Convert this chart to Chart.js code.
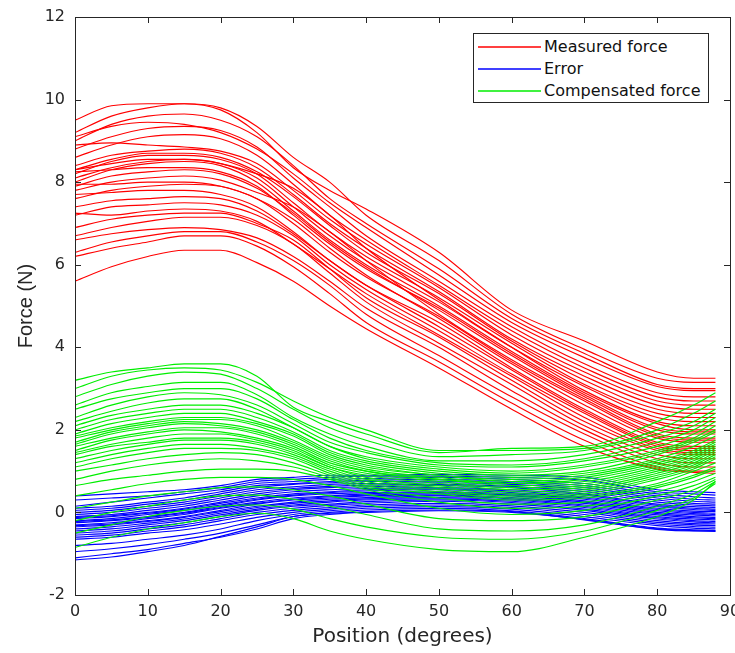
<!DOCTYPE html>
<html>
<head>
<meta charset="utf-8">
<script src="https://cdn.jsdelivr.net/npm/chart.js@4.4.1/dist/chart.umd.min.js"></script>
<style>
  html, body { margin: 0; padding: 0; background: #fff; }
  #wrap { position: relative; width: 735px; height: 653px; }
  #legend {
    position: absolute; left: 473px; top: 33px; width: 234px; height: 68px;
    border: 1px solid #262626; background: #fff;
    font-family: "DejaVu Sans", sans-serif; font-size: 16px; color: #111;
  }
  .row { position: absolute; left: 0; height: 20px; line-height: 20px; width: 234px; }
  .sw { position: absolute; left: 4px; top: 8px; }
  .lbl { position: absolute; left: 70px; top: 0; white-space: nowrap; }
</style>
</head>
<body>
<div id="wrap">
  <canvas id="c" width="735" height="653"></canvas>
  <div id="legend">
    <div class="row" style="top:3px"><svg class="sw" width="64" height="4"><line x1="0" y1="2" x2="63" y2="2" stroke="#ff0000" stroke-width="1.3"/></svg><div class="lbl">Measured force</div></div>
    <div class="row" style="top:25px"><svg class="sw" width="64" height="4"><line x1="0" y1="2" x2="63" y2="2" stroke="#0000ff" stroke-width="1.3"/></svg><div class="lbl">Error</div></div>
    <div class="row" style="top:47px"><svg class="sw" width="64" height="4"><line x1="0" y1="2" x2="63" y2="2" stroke="#00ee00" stroke-width="1.3"/></svg><div class="lbl">Compensated force</div></div>
  </div>
</div>
<script>
// ---- Data ----
const positions = [0, 5, 10, 15, 20, 25, 30, 35, 40, 50, 60, 70, 80, 85, 88];
const xTicks = [0, 10, 20, 30, 40, 50, 60, 70, 80, 90];
const yTicks = [-2, 0, 2, 4, 6, 8, 10, 12];
const seriesNames = ["Measured force", "Error", "Compensated force"];

const measuredTrials = [
  [9.5, 9.85, 9.9, 9.9, 9.75, 9.2, 8.35, 7.8, 7.35, 6.3, 4.9, 4.15, 3.4, 3.25, 3.25],
  [9.2, 9.6, 9.8, 9.9, 9.8, 9.35, 8.6, 8.0, 7.2, 6.1, 4.8, 3.95, 3.25, 3.15, 3.15],
  [9.0, 9.4, 9.6, 9.65, 9.5, 9.1, 8.4, 7.6, 7.0, 5.9, 4.7, 3.85, 3.1, 3.0, 3.0],
  [9.1, 9.35, 9.45, 9.4, 9.2, 8.8, 8.2, 7.5, 6.9, 5.75, 4.6, 3.75, 3.05, 2.95, 2.95],
  [8.8, 9.1, 9.3, 9.35, 9.25, 8.85, 8.1, 7.4, 6.7, 5.6, 4.5, 3.6, 2.9, 2.8, 2.8],
  [8.6, 8.9, 9.1, 9.15, 9.05, 8.65, 7.95, 7.2, 6.6, 5.5, 4.4, 3.5, 2.8, 2.7, 2.7],
  [8.9, 8.95, 8.9, 8.85, 8.75, 8.45, 7.8, 7.1, 6.5, 5.45, 4.3, 3.4, 2.7, 2.6, 2.6],
  [8.4, 8.65, 8.75, 8.8, 8.7, 8.35, 7.7, 7.0, 6.4, 5.35, 4.2, 3.3, 2.6, 2.5, 2.5],
  [8.3, 8.55, 8.7, 8.7, 8.6, 8.25, 7.65, 6.95, 6.3, 5.3, 4.15, 3.2, 2.5, 2.4, 2.4],
  [8.2, 8.5, 8.65, 8.65, 8.55, 8.2, 7.5, 6.8, 6.2, 5.2, 4.1, 3.1, 2.4, 2.3, 2.3],
  [8.3, 8.45, 8.55, 8.55, 8.45, 8.1, 7.4, 6.7, 6.1, 5.1, 4.0, 3.05, 2.3, 2.2, 2.2],
  [8.1, 8.35, 8.5, 8.55, 8.45, 8.2, 7.85, 7.2, 6.4, 5.15, 4.0, 2.95, 2.2, 2.1, 2.1],
  [8.0, 8.3, 8.45, 8.5, 8.4, 8.0, 7.3, 6.6, 6.0, 5.0, 3.9, 2.9, 2.15, 2.0, 2.0],
  [8.25, 8.3, 8.35, 8.35, 8.25, 7.9, 7.2, 6.5, 5.9, 4.95, 3.85, 2.85, 2.05, 1.95, 1.95],
  [7.9, 8.15, 8.25, 8.3, 8.2, 7.85, 7.25, 6.55, 5.95, 4.9, 3.8, 2.8, 2.0, 1.9, 1.9],
  [7.8, 8.0, 8.1, 8.15, 8.05, 7.75, 7.4, 6.8, 6.1, 4.8, 3.7, 2.75, 1.9, 1.8, 1.8],
  [7.95, 7.95, 8.0, 8.0, 7.9, 7.6, 7.0, 6.3, 5.7, 4.75, 3.65, 2.7, 1.85, 1.75, 1.75],
  [7.6, 7.8, 7.9, 7.95, 7.9, 7.6, 7.1, 6.4, 5.75, 4.7, 3.6, 2.6, 1.8, 1.7, 1.7],
  [7.7, 7.75, 7.8, 7.8, 7.7, 7.4, 6.8, 6.1, 5.5, 4.6, 3.5, 2.5, 1.7, 1.6, 1.6],
  [7.4, 7.55, 7.6, 7.65, 7.6, 7.3, 6.75, 6.1, 5.5, 4.5, 3.45, 2.45, 1.65, 1.55, 1.55],
  [7.2, 7.4, 7.45, 7.5, 7.45, 7.2, 6.7, 6.0, 5.4, 4.4, 3.35, 2.4, 1.6, 1.5, 1.5],
  [7.25, 7.2, 7.3, 7.35, 7.3, 7.05, 6.5, 5.9, 5.3, 4.3, 3.3, 2.3, 1.55, 1.45, 1.45],
  [6.9, 7.1, 7.2, 7.25, 7.25, 7.0, 6.6, 5.9, 5.2, 4.25, 3.2, 2.2, 1.5, 1.4, 1.4],
  [6.7, 6.9, 7.05, 7.15, 7.15, 6.95, 6.5, 5.8, 5.1, 4.1, 3.1, 2.1, 1.4, 1.3, 1.3],
  [6.6, 6.75, 6.85, 6.9, 6.85, 6.65, 6.2, 5.6, 4.95, 4.0, 2.95, 2.0, 1.3, 1.2, 1.2],
  [6.3, 6.55, 6.7, 6.8, 6.8, 6.55, 6.1, 5.5, 4.8, 3.8, 2.8, 1.9, 1.2, 1.1, 1.1],
  [6.2, 6.4, 6.55, 6.7, 6.7, 6.45, 5.95, 5.3, 4.6, 3.65, 2.65, 1.75, 1.1, 1.0, 1.0],
  [5.6, 5.95, 6.2, 6.35, 6.35, 6.05, 5.6, 5.0, 4.45, 3.5, 2.5, 1.6, 1.05, 0.97, 0.95]
];

const errorTrials = [
  [0.4, 0.45, 0.5, 0.55, 0.65, 0.8, 0.85, 0.9, 0.9, 0.92, 0.9, 0.85, 0.55, 0.5, 0.48],
  [0.3, 0.35, 0.4, 0.5, 0.6, 0.75, 0.8, 0.85, 0.88, 0.88, 0.85, 0.78, 0.5, 0.45, 0.42],
  [0.15, 0.25, 0.35, 0.45, 0.55, 0.7, 0.75, 0.8, 0.82, 0.85, 0.8, 0.7, 0.45, 0.38, 0.35],
  [0.1, 0.15, 0.25, 0.35, 0.5, 0.65, 0.7, 0.75, 0.78, 0.8, 0.75, 0.65, 0.4, 0.32, 0.3],
  [0.05, 0.1, 0.2, 0.3, 0.45, 0.6, 0.68, 0.72, 0.75, 0.76, 0.72, 0.6, 0.35, 0.27, 0.25],
  [0.0, 0.05, 0.15, 0.25, 0.4, 0.55, 0.62, 0.68, 0.7, 0.72, 0.68, 0.55, 0.3, 0.22, 0.2],
  [-0.05, 0.0, 0.1, 0.2, 0.35, 0.5, 0.58, 0.63, 0.66, 0.68, 0.63, 0.5, 0.25, 0.18, 0.16],
  [-0.1, -0.05, 0.05, 0.15, 0.3, 0.45, 0.55, 0.6, 0.62, 0.65, 0.6, 0.45, 0.2, 0.14, 0.12],
  [-0.12, -0.08, 0.0, 0.1, 0.25, 0.4, 0.5, 0.55, 0.58, 0.6, 0.55, 0.42, 0.17, 0.1, 0.08],
  [-0.15, -0.1, -0.02, 0.08, 0.22, 0.35, 0.45, 0.5, 0.55, 0.57, 0.52, 0.38, 0.14, 0.07, 0.05],
  [-0.2, -0.15, -0.05, 0.05, 0.18, 0.32, 0.42, 0.48, 0.52, 0.55, 0.48, 0.35, 0.1, 0.03, 0.02],
  [-0.22, -0.18, -0.1, 0.0, 0.15, 0.3, 0.4, 0.45, 0.48, 0.5, 0.45, 0.32, 0.07, 0.0, -0.02],
  [-0.25, -0.2, -0.12, -0.02, 0.12, 0.25, 0.35, 0.4, 0.45, 0.48, 0.42, 0.28, 0.04, -0.03, -0.05],
  [-0.3, -0.25, -0.15, -0.05, 0.1, 0.22, 0.32, 0.38, 0.42, 0.45, 0.4, 0.25, 0.0, -0.06, -0.08],
  [-0.32, -0.28, -0.2, -0.1, 0.05, 0.2, 0.3, 0.35, 0.4, 0.42, 0.36, 0.22, -0.03, -0.1, -0.12],
  [-0.35, -0.3, -0.22, -0.12, 0.02, 0.15, 0.25, 0.32, 0.36, 0.4, 0.33, 0.18, -0.06, -0.13, -0.15],
  [-0.4, -0.35, -0.26, -0.16, -0.02, 0.12, 0.22, 0.28, 0.33, 0.36, 0.3, 0.15, -0.1, -0.16, -0.18],
  [-0.45, -0.4, -0.3, -0.2, -0.06, 0.08, 0.18, 0.25, 0.3, 0.33, 0.27, 0.12, -0.13, -0.2, -0.22],
  [-0.5, -0.45, -0.35, -0.25, -0.1, 0.05, 0.15, 0.2, 0.26, 0.3, 0.24, 0.08, -0.16, -0.23, -0.25],
  [-0.55, -0.5, -0.4, -0.3, -0.15, 0.0, 0.1, 0.17, 0.22, 0.27, 0.2, 0.05, -0.2, -0.27, -0.28],
  [-0.6, -0.55, -0.45, -0.35, -0.2, -0.05, 0.05, 0.12, 0.18, 0.22, 0.16, 0.0, -0.24, -0.3, -0.32],
  [-0.65, -0.6, -0.5, -0.42, -0.28, -0.12, 0.0, 0.08, 0.14, 0.18, 0.12, -0.05, -0.28, -0.34, -0.36],
  [-0.8, -0.75, -0.65, -0.55, -0.4, -0.2, -0.05, 0.04, 0.1, 0.14, 0.08, -0.1, -0.32, -0.38, -0.4],
  [-0.95, -0.88, -0.78, -0.65, -0.5, -0.3, -0.1, 0.0, 0.06, 0.1, 0.04, -0.15, -0.38, -0.42, -0.44],
  [-1.1, -1.0, -0.9, -0.75, -0.6, -0.4, -0.15, -0.05, 0.02, 0.06, 0.02, -0.18, -0.4, -0.44, -0.46],
  [-1.15, -1.08, -0.95, -0.8, -0.58, -0.35, -0.1, -0.02, 0.0, 0.04, 0.0, -0.17, -0.41, -0.45, -0.45]
];

const compensatedTrials = [
  [3.2, 3.4, 3.5, 3.6, 3.6, 3.3, 2.55, 2.2, 1.9, 1.45, 1.55, 1.6, 2.2, 2.6, 2.9],
  [3.0, 3.3, 3.45, 3.5, 3.45, 3.15, 2.7, 2.3, 2.0, 1.5, 1.5, 1.55, 2.0, 2.4, 2.7],
  [2.8, 3.1, 3.3, 3.4, 3.35, 3.0, 2.5, 2.05, 1.75, 1.35, 1.4, 1.5, 1.9, 2.2, 2.5],
  [2.6, 2.9, 3.05, 3.15, 3.15, 2.85, 2.3, 1.9, 1.6, 1.25, 1.25, 1.4, 1.8, 2.1, 2.4],
  [2.5, 2.75, 2.9, 3.0, 3.0, 2.75, 2.25, 1.8, 1.5, 1.2, 1.15, 1.3, 1.7, 2.0, 2.3],
  [2.3, 2.6, 2.8, 2.9, 2.85, 2.6, 2.15, 1.7, 1.45, 1.15, 1.1, 1.25, 1.6, 1.9, 2.2],
  [2.2, 2.45, 2.65, 2.75, 2.75, 2.5, 2.05, 1.6, 1.35, 1.1, 1.0, 1.15, 1.5, 1.8, 2.1],
  [2.1, 2.35, 2.5, 2.6, 2.6, 2.4, 2.05, 1.6, 1.3, 1.05, 0.95, 1.1, 1.45, 1.75, 2.0],
  [2.0, 2.25, 2.4, 2.5, 2.5, 2.3, 1.95, 1.5, 1.25, 1.0, 0.9, 1.0, 1.4, 1.7, 1.95],
  [1.9, 2.15, 2.3, 2.4, 2.4, 2.2, 1.9, 1.45, 1.2, 0.95, 0.85, 0.95, 1.3, 1.6, 1.85],
  [1.85, 2.05, 2.2, 2.3, 2.3, 2.15, 1.85, 1.4, 1.15, 0.9, 0.8, 0.9, 1.25, 1.5, 1.75],
  [1.8, 2.0, 2.15, 2.25, 2.25, 2.1, 1.75, 1.35, 1.1, 0.9, 0.75, 0.85, 1.2, 1.45, 1.7],
  [1.7, 1.95, 2.1, 2.2, 2.15, 2.0, 1.7, 1.3, 1.05, 0.85, 0.7, 0.8, 1.15, 1.4, 1.65],
  [1.65, 1.9, 2.05, 2.15, 2.1, 1.95, 1.65, 1.25, 1.0, 0.8, 0.7, 0.75, 1.1, 1.35, 1.6],
  [1.6, 1.8, 1.95, 2.05, 2.05, 1.9, 1.6, 1.2, 1.0, 0.8, 0.65, 0.7, 1.05, 1.3, 1.55],
  [1.5, 1.75, 1.9, 2.0, 1.95, 1.8, 1.55, 1.15, 0.95, 0.75, 0.6, 0.65, 1.0, 1.25, 1.5],
  [1.45, 1.65, 1.8, 1.9, 1.9, 1.75, 1.5, 1.1, 0.9, 0.7, 0.55, 0.6, 0.95, 1.2, 1.45],
  [1.4, 1.6, 1.7, 1.8, 1.8, 1.7, 1.45, 1.1, 0.85, 0.65, 0.5, 0.55, 0.9, 1.15, 1.4],
  [1.3, 1.5, 1.65, 1.75, 1.75, 1.65, 1.4, 1.05, 0.8, 0.6, 0.45, 0.5, 0.85, 1.1, 1.35],
  [1.2, 1.4, 1.55, 1.65, 1.65, 1.55, 1.35, 1.0, 0.75, 0.55, 0.4, 0.45, 0.8, 1.05, 1.3],
  [1.1, 1.3, 1.45, 1.55, 1.55, 1.5, 1.3, 0.95, 0.7, 0.5, 0.35, 0.4, 0.7, 1.0, 1.2],
  [1.0, 1.15, 1.3, 1.4, 1.45, 1.4, 1.2, 0.9, 0.65, 0.45, 0.3, 0.35, 0.65, 0.9, 1.1],
  [0.8, 1.0, 1.15, 1.25, 1.3, 1.25, 1.1, 0.85, 0.6, 0.35, 0.2, 0.25, 0.6, 0.85, 1.05],
  [0.65, 0.8, 0.9, 1.0, 1.05, 1.05, 1.0, 0.8, 0.55, 0.25, 0.1, 0.15, 0.5, 0.75, 0.95],
  [0.4, 0.55, 0.7, 0.8, 0.85, 0.85, 0.8, 0.65, 0.45, 0.1, -0.05, 0.05, 0.4, 0.65, 0.85],
  [0.1, 0.25, 0.4, 0.5, 0.6, 0.62, 0.55, 0.4, 0.2, -0.15, -0.2, -0.1, 0.3, 0.55, 0.8],
  [-0.2, 0.0, 0.15, 0.3, 0.4, 0.42, 0.32, 0.15, -0.05, -0.4, -0.45, -0.3, 0.15, 0.45, 0.75],
  [-0.5, -0.3, -0.1, 0.05, 0.15, 0.18, 0.08, -0.15, -0.35, -0.6, -0.65, -0.45, 0.05, 0.35, 0.7],
  [-0.85, -0.6, -0.4, -0.25, -0.1, -0.02, -0.15, -0.45, -0.65, -0.9, -0.95, -0.6, -0.1, 0.3, 0.75]
];

// ---- Build datasets ----
const COLORS = ["#ff0000", "#0000ff", "#00ee00"];
const groups = [measuredTrials, errorTrials, compensatedTrials];
const datasets = [];
groups.forEach((trials, gi) => {
  trials.forEach((vals) => {
    datasets.push({
      label: seriesNames[gi],
      data: vals.map((v, i) => ({ x: positions[i], y: v })),
      borderColor: COLORS[gi],
      borderWidth: 1.15,
      pointRadius: 0,
      cubicInterpolationMode: "monotone",
      fill: false,
      order: gi === 0 ? 3 : (gi === 1 ? 2 : 1)
    });
  });
});

const INK = "#262626";
const boxPlugin = {
  id: "matlabBox",
  afterDatasetsDraw(chart) {
    const { ctx, chartArea: a, scales } = chart;
    ctx.save();
    ctx.strokeStyle = INK;
    ctx.lineWidth = 1;
    ctx.strokeRect(Math.round(a.left) + 0.5, Math.round(a.top) + 0.5,
                   Math.round(a.right - a.left), Math.round(a.bottom - a.top));
    const L = 6;
    ctx.beginPath();
    xTicks.forEach(t => {
      const px = Math.round(scales.x.getPixelForValue(t)) + 0.5;
      ctx.moveTo(px, a.bottom); ctx.lineTo(px, a.bottom - L);
      ctx.moveTo(px, a.top); ctx.lineTo(px, a.top + L);
    });
    yTicks.forEach(t => {
      const py = Math.round(scales.y.getPixelForValue(t)) + 0.5;
      ctx.moveTo(a.left, py); ctx.lineTo(a.left + L, py);
      ctx.moveTo(a.right, py); ctx.lineTo(a.right - L, py);
    });
    ctx.stroke();
    ctx.restore();
  }
};

const FONT = "'DejaVu Sans', sans-serif";
new Chart(document.getElementById("c"), {
  type: "line",
  data: { datasets },
  options: {
    responsive: false,
    animation: false,
    events: [],
    layout: { padding: { top: 17, right: 5, left: 0, bottom: 0 } },
    plugins: { legend: { display: false }, tooltip: { enabled: false } },
    scales: {
      x: {
        type: "linear", min: 0, max: 90,
        afterBuildTicks: s => { s.ticks = xTicks.map(v => ({ value: v })); },
        ticks: { font: { family: FONT, size: 16 }, color: INK, padding: 7, maxRotation: 0, autoSkip: false },
        grid: { display: false, drawTicks: false },
        border: { display: false },
        title: { display: true, text: "Position (degrees)", font: { family: FONT, size: 20 }, color: INK, padding: { top: 4, bottom: 4 } },
        afterFit: s => { s.height = 58; s.paddingLeft = 0; s.paddingRight = 0; }
      },
      y: {
        type: "linear", min: -2, max: 12,
        afterBuildTicks: s => { s.ticks = yTicks.map(v => ({ value: v })); },
        ticks: { font: { family: FONT, size: 16 }, color: INK, padding: 10, autoSkip: false },
        grid: { display: false, drawTicks: false },
        border: { display: false },
        title: { display: true, text: "Force (N)", font: { family: "'Liberation Sans', Arial, sans-serif", size: 20 }, color: INK, padding: { top: 14, bottom: 4 } },
        afterFit: s => { s.width = 75; s.paddingTop = 0; s.paddingBottom = 0; }
      }
    }
  },
  plugins: [boxPlugin]
});
</script>
</body>
</html>
